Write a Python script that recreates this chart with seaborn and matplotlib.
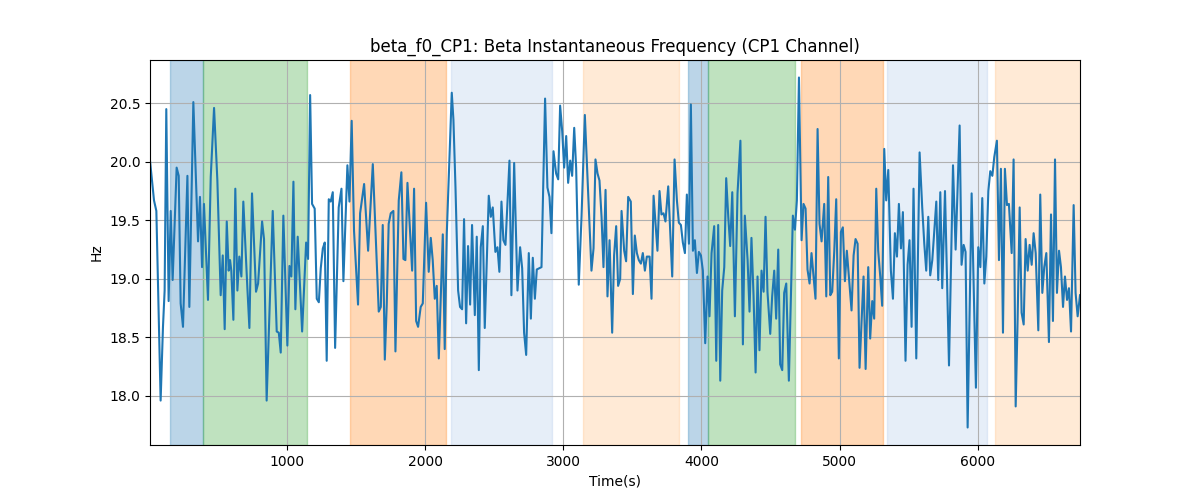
import numpy as np
import pandas as pd
import seaborn as sns
import matplotlib
matplotlib.use('Agg')
import matplotlib.pyplot as plt

# time (s) and beta instantaneous frequency (Hz)
time_s = [
    5, 34, 51, 82, 99, 111, 123, 140, 155, 169,
    198, 213, 227, 244, 276, 290, 319, 353, 367, 382,
    396, 425, 445, 469, 493, 517, 532, 546, 561, 575,
    585, 594, 609, 623, 638, 652, 667, 681, 710, 725,
    744, 773, 788, 817, 831, 850,
    865, 894, 923, 938, 952, 971, 1000, 1015, 1029, 1044,
    1058, 1075, 1107, 1136, 1150, 1165, 1179, 1198, 1213, 1228,
    1242, 1257, 1271, 1285, 1300, 1314, 1329, 1346, 1372, 1392,
    1406, 1435, 1450, 1466, 1483, 1512, 1527, 1556, 1585, 1619,
    1662, 1677, 1691, 1706,
    1720, 1734, 1749, 1768, 1783, 1807, 1826, 1841, 1855, 1870,
    1904, 1918, 1933, 1947, 1966, 1981, 2005, 2024, 2039, 2053,
    2068, 2082, 2097, 2126, 2140, 2155, 2174, 2191, 2203, 2218,
    2237, 2251, 2266, 2280, 2295, 2309, 2324, 2338, 2358, 2372,
    2387, 2401, 2416, 2430, 2459, 2474, 2488, 2507, 2522, 2536,
    2551, 2565,
    2580, 2609, 2623, 2643, 2667, 2686, 2701, 2715, 2730, 2749,
    2764, 2778, 2793, 2807, 2841, 2867, 2884, 2899, 2913, 2928,
    2947, 2962, 2976, 2991, 3005, 3020, 3034, 3049, 3063, 3078,
    3092, 3111, 3131, 3155, 3174, 3203, 3218, 3232, 3247, 3261,
    3276, 3290, 3305, 3319, 3334, 3353, 3367, 3382, 3396, 3411,
    3421,
    3440, 3454, 3469, 3488, 3503, 3517, 3532, 3546, 3561, 3575,
    3590, 3604, 3624, 3638, 3653, 3681, 3696, 3710, 3725, 3739,
    3759, 3788, 3805, 3822, 3836, 3851, 3865, 3880, 3894, 3909,
    3923, 3938, 3952, 3967, 3981, 3996, 4010, 4027, 4044, 4058,
    4073, 4092, 4107, 4121, 4136, 4150, 4165, 4179, 4194, 4208,
    4223, 4242, 4261, 4282,
    4300, 4314, 4334, 4348, 4362, 4377, 4392, 4406, 4420, 4435,
    4450, 4464, 4478, 4498, 4512, 4527, 4541, 4556, 4570, 4585,
    4599, 4614, 4633, 4648, 4662, 4677, 4691, 4706, 4725, 4739,
    4754, 4768, 4783, 4797, 4826, 4841, 4855, 4870, 4889, 4904,
    4918, 4933, 4947, 4962, 4976, 4995, 5010, 5024, 5039, 5053,
    5068, 5087, 5102, 5116, 5131,
    5145, 5174, 5189, 5208, 5222, 5237, 5251, 5266, 5280, 5295,
    5309, 5324, 5338, 5353, 5372, 5387, 5401, 5416, 5430, 5445,
    5459, 5478, 5493, 5507, 5522, 5536, 5556, 5580, 5599, 5614,
    5628, 5643, 5657, 5672, 5701, 5715, 5730, 5744, 5764, 5793,
    5822, 5841, 5870, 5884, 5899, 5913, 5928, 5957, 5988,
    6005, 6020, 6034, 6049, 6063, 6078, 6092, 6107, 6121, 6140,
    6155, 6169, 6184, 6198, 6213, 6227, 6247, 6261, 6276, 6290,
    6305, 6319, 6334, 6348, 6363, 6377, 6392, 6406, 6421, 6440,
    6454, 6469, 6483, 6498, 6517, 6532, 6546, 6561, 6575, 6590,
    6604, 6619, 6633, 6648, 6662, 6677, 6696, 6710, 6725, 6742,
]

freq_hz = [
    20.01, 19.67, 19.58, 17.96, 18.59, 18.90, 20.45, 18.81, 19.58, 18.99,
    19.95, 19.88, 18.79, 18.59, 19.88, 18.76, 20.51, 19.32, 19.70, 19.10,
    19.64, 18.82, 19.87, 20.46, 19.84, 18.86, 19.20, 18.57, 19.49, 19.07,
    19.16, 19.07, 18.65, 19.77, 18.90, 19.19, 19.02, 19.66, 18.93, 18.58,
    19.73, 18.89, 18.96, 19.49, 19.34, 17.96,
    18.51, 19.58, 18.55, 18.54, 18.37, 19.54, 18.43, 19.11, 19.02, 19.83,
    18.74, 19.36, 18.55, 19.31, 19.17, 20.57, 19.64, 19.60, 18.83, 18.80,
    19.09, 19.26, 19.31, 18.30, 19.68, 19.66, 19.74, 18.41, 19.61, 19.77,
    18.98, 19.97, 19.66, 20.35, 19.41, 18.78, 19.56, 19.81, 19.24, 19.98,
    18.72, 18.76, 19.46, 18.31,
    18.78, 19.47, 19.56, 19.58, 18.38, 19.67, 19.91, 19.17, 19.16, 19.82,
    19.07, 19.77, 18.64, 18.59, 18.76, 18.79, 19.65, 19.06, 19.35, 19.16,
    18.83, 18.94, 18.32, 19.38, 18.40, 19.39, 20.01, 20.59, 20.36, 19.78,
    18.90, 18.76, 18.74, 19.51, 18.62, 19.28, 18.78, 19.46, 18.69, 19.36,
    18.22, 19.27, 19.45, 18.58, 19.71, 19.53, 19.61, 19.23, 19.27, 19.06,
    19.66, 19.33,
    19.29, 20.01, 18.86, 19.99, 18.90, 19.27, 19.09, 18.54, 18.35, 19.22,
    18.66, 19.18, 18.83, 19.08, 19.10, 20.54, 19.78, 19.70, 19.39, 20.09,
    19.90, 19.85, 20.48, 20.26, 19.95, 20.22, 19.82, 20.01, 19.88, 20.29,
    19.95, 18.95, 19.53, 20.40, 19.87, 19.07, 19.26, 20.02, 19.90, 19.84,
    19.53, 19.10, 19.76, 18.85, 19.33, 18.54, 19.20, 19.45, 18.94, 19.00,
    19.58,
    19.24, 19.15, 19.70, 19.66, 18.87, 19.37, 19.22, 19.16, 19.13, 19.22,
    19.07, 19.19, 19.19, 18.83, 19.71, 19.24, 19.75, 19.55, 19.56, 19.49,
    19.79, 19.02, 20.02, 19.67, 19.48, 19.46, 19.31, 19.22, 19.72, 19.30,
    20.49, 19.24, 19.33, 19.05, 19.23, 19.20, 19.07, 18.45, 19.02, 18.68,
    19.22, 19.45, 18.30, 19.46, 18.13, 18.90, 19.10, 19.86, 19.53, 19.28,
    19.74, 18.68, 19.73, 20.18,
    18.44, 19.54, 19.16, 18.72, 19.35, 18.86, 18.20, 19.02, 18.39, 19.07,
    18.89, 19.53, 18.89, 18.53, 18.85, 19.07, 18.66, 19.25, 18.27, 18.22,
    18.88, 18.96, 18.13, 18.88, 19.54, 19.42, 19.67, 20.72, 19.33, 19.64,
    19.60, 19.08, 18.96, 19.22, 18.83, 20.28, 19.47, 19.32, 19.64, 18.85,
    19.87, 18.86, 18.89, 19.24, 19.68, 18.32, 19.40, 19.44, 18.98, 19.24,
    19.02, 18.73, 19.20, 19.34, 19.30,
    18.24, 19.02, 18.23, 19.10, 18.49, 18.81, 18.66, 19.77, 19.24, 19.02,
    18.77, 20.11, 19.67, 19.93, 19.07, 18.83, 19.39, 19.19, 19.64, 19.26,
    19.57, 18.30, 19.12, 19.33, 18.59, 19.77, 18.32, 20.08, 19.61, 19.30,
    19.07, 19.53, 19.03, 19.16, 19.66, 18.99, 19.74, 18.92, 19.75, 18.26,
    19.97, 19.25, 20.31, 19.12, 19.29, 19.23, 17.73, 19.73, 18.07,
    19.27, 19.10, 19.69, 18.96, 19.19, 19.75, 19.92, 19.88, 20.04, 20.18,
    19.16, 19.94, 18.54, 19.94, 19.63, 19.64, 19.22, 20.02, 17.91, 18.65,
    19.61, 18.71, 18.61, 19.34, 19.07, 19.29, 19.12, 19.39, 19.22, 18.56,
    19.72, 18.88, 19.10, 19.22, 18.46, 19.55, 18.64, 20.02, 18.88, 19.24,
    19.10, 18.76, 19.02, 18.82, 18.92, 18.55, 19.63, 18.88, 18.68, 18.86,
]

# shaded segments (start, end in seconds) and their colours
seg_start = [150, 389, 1452, 2183, 3140, 3902, 4047, 4720, 5342, 6124]
seg_end = [387, 1140, 2150, 2920, 3840, 4044, 4674, 5318, 6070, 6800]
seg_color = ['tab:blue', 'tab:green', 'tab:orange', '#aec7e8', '#ffbb78',
             'tab:blue', 'tab:green', 'tab:orange', '#aec7e8', '#ffbb78']

df = pd.DataFrame({'Time(s)': time_s, 'Hz': freq_hz})

fig, ax = plt.subplots(figsize=(12, 5), dpi=100)

for s, e, c in zip(seg_start, seg_end, seg_color):
    ax.axvspan(s, e, color=c, alpha=0.3)

sns.lineplot(data=df, x='Time(s)', y='Hz', ax=ax, color='tab:blue',
             linewidth=1.5, estimator=None)

ax.set_xlim(df['Time(s)'].min(), df['Time(s)'].max())
ax.grid(True)
ax.set_title('beta_f0_CP1: Beta Instantaneous Frequency (CP1 Channel)')
ax.set_xlabel('Time(s)')
ax.set_ylabel('Hz')

plt.savefig('out.png')
